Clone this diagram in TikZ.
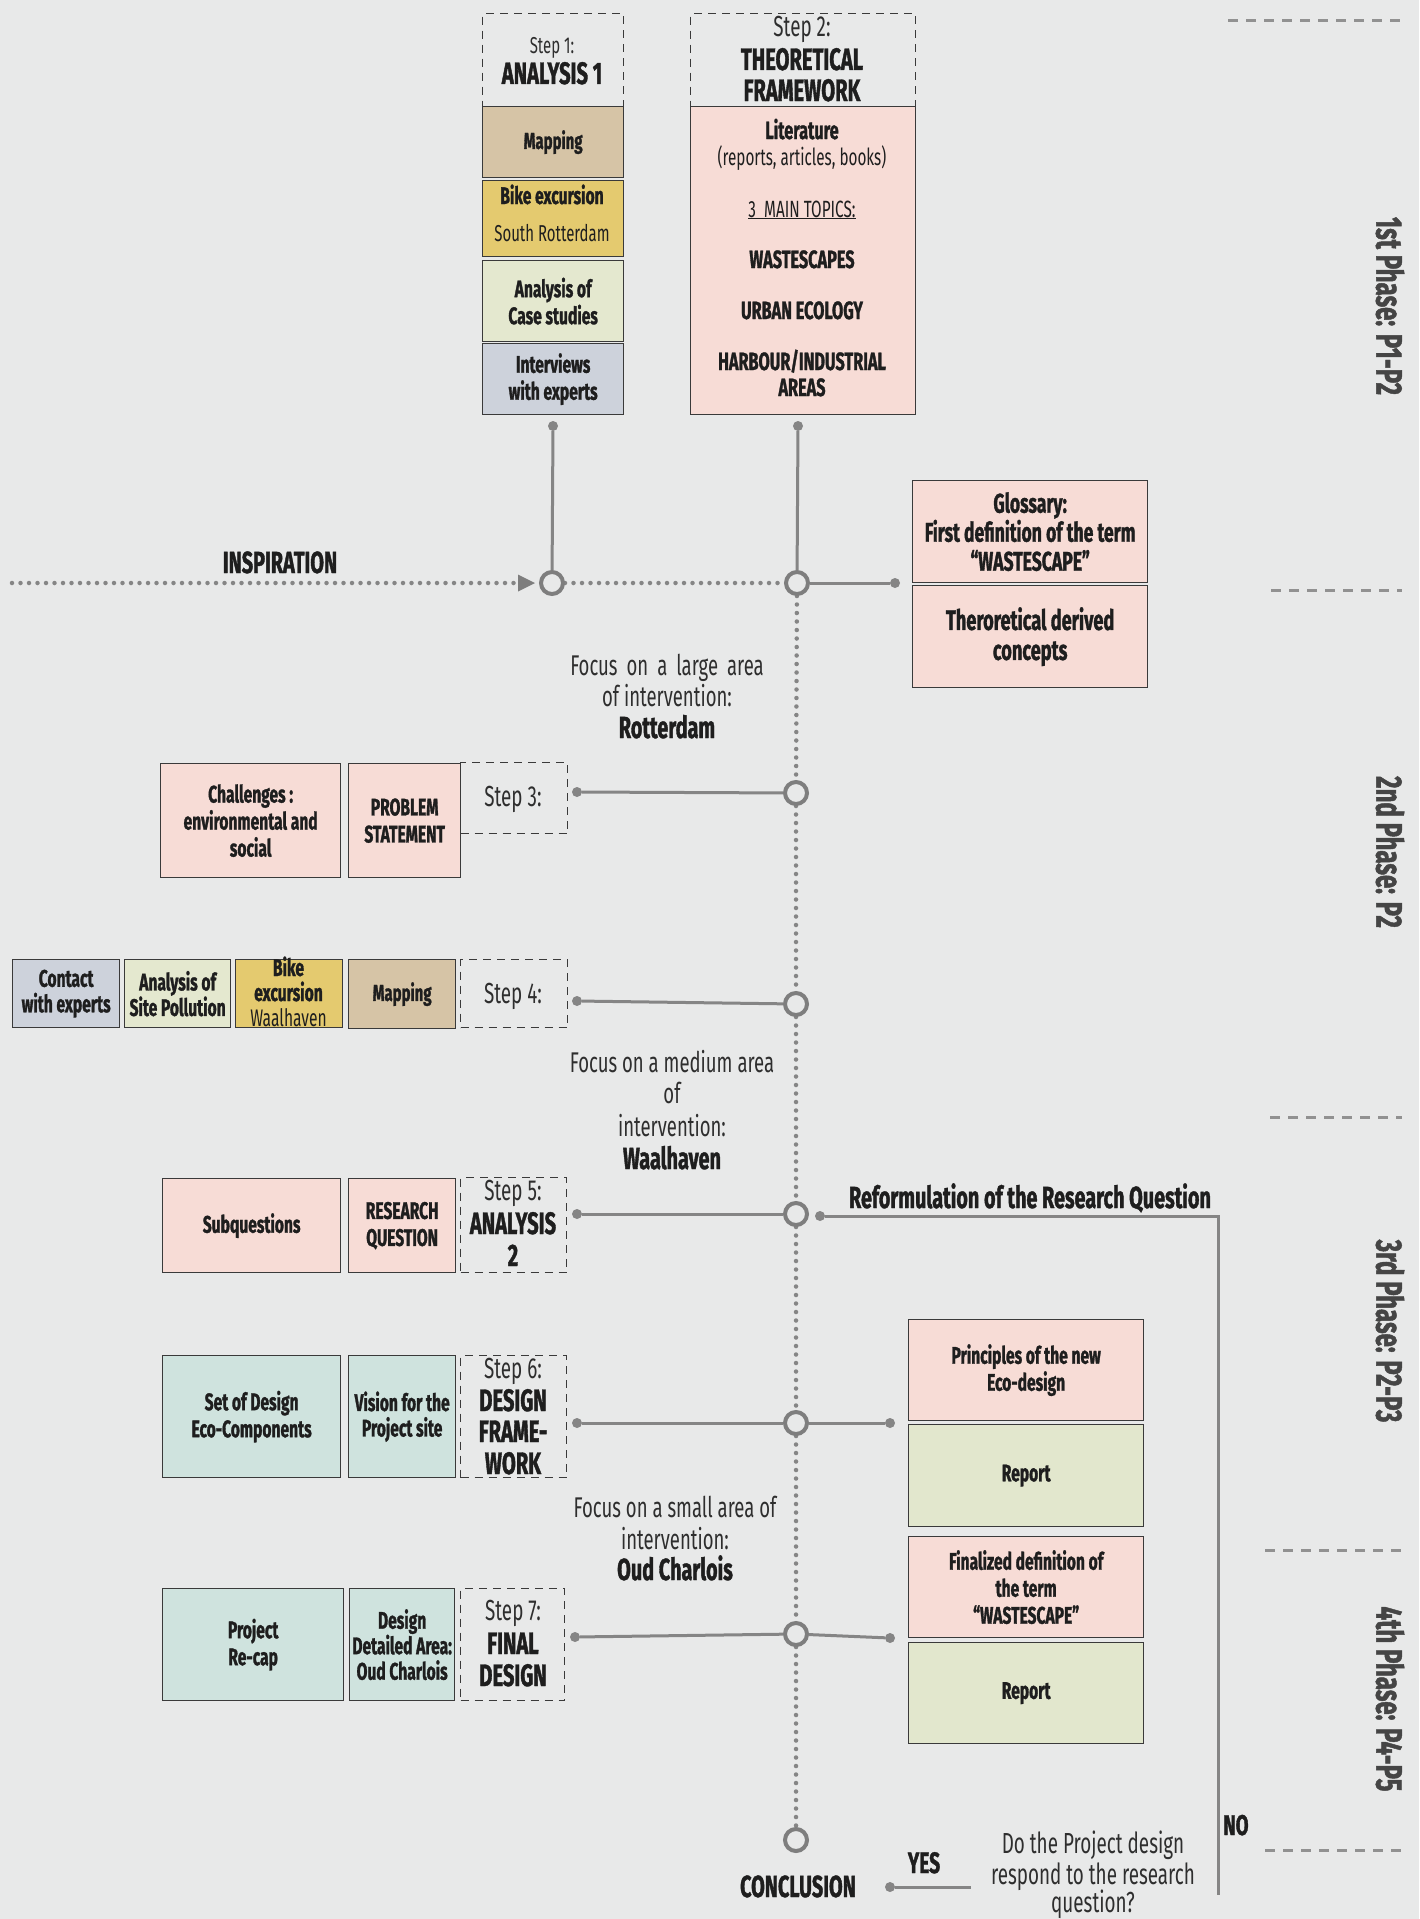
\documentclass[tikz,border=0pt]{standalone}
\usepackage{fontspec}
\setmainfont{Fira Sans}[FakeStretch=0.65, BoldFeatures={FakeBold=1.2}]
\usetikzlibrary{arrows.meta}
\definecolor{bg}{HTML}{E8E9E9}
\definecolor{lgray}{HTML}{858585}
\definecolor{rgray}{HTML}{7E7E7E}
\definecolor{bord}{HTML}{3A3A3A}
\definecolor{txt}{HTML}{1E1E1E}
\definecolor{ltxt}{HTML}{2E2E2E}
\definecolor{ptxt}{HTML}{454545}
\definecolor{ctan}{HTML}{D6C4A6}
\definecolor{cyel}{HTML}{E4CA6F}
\definecolor{clgr}{HTML}{E4E8CF}
\definecolor{cblu}{HTML}{CDD2DB}
\definecolor{cpink}{HTML}{F7DCD6}
\definecolor{cteal}{HTML}{CFE3DE}
\definecolor{crep}{HTML}{E2E7CD}
\newcommand\fs[2]{\fontsize{#1}{#2}\selectfont}
\pgfdeclarelayer{bgl}
\pgfdeclarelayer{lines}
\pgfsetlayers{bgl,lines,main}
\tikzset{
  box/.style={draw=bord, line width=1.3pt, inner sep=2pt, align=center, text=txt,
     font=\fs{24}{27}\bfseries, anchor=north west},
  nbox/.style={box, font=\fs{24}{25.5}\bfseries},
  stepbox/.style={draw=bord, line width=1.3pt, dash pattern=on 8pt off 6pt, anchor=north west, inner sep=0},
  steplbl/.style={anchor=base, text=ltxt, font=\fs{29}{30}, inner sep=0},
  steptitle/.style={anchor=base, text=txt, font=\fs{31}{30}\bfseries, inner sep=0},
  intext/.style={anchor=base, text=txt, inner sep=0},
  littxt/.style={anchor=base, text=txt, font=\fs{25}{26}\bfseries, inner sep=0},
  focus/.style={anchor=base, text=ltxt, font=\fs{28.5}{30}, inner sep=0},
  focusb/.style={anchor=base, text=txt, font=\fs{30.5}{30}\bfseries, inner sep=0},
  bigb/.style={anchor=base, text=txt, font=\fs{30.5}{30}\bfseries, inner sep=0},
  phase/.style={rotate=-90, text=ptxt, font=\fs{37}{37}\bfseries, inner sep=0},
  conn/.style={draw=lgray, line width=3pt},
  dotl/.style={draw=lgray, line width=4.5pt, line cap=round, dash pattern=on 0pt off 8.5pt},
  ring/.style={circle, draw=rgray, line width=4pt, fill=bg, minimum size=22pt, inner sep=0},
  pin/.style={circle, fill=lgray, minimum size=10pt, inner sep=0},
  phaseline/.style={draw=lgray!90, line width=3pt, dash pattern=on 10pt off 8pt},
}
\newcommand\ws{\hspace{9pt}}
\begin{document}
\begin{tikzpicture}[x=1pt,y=-1pt]
\begin{pgfonlayer}{bgl}
\fill[bg] (0,0) rectangle (1419,1919);
\end{pgfonlayer}
\useasboundingbox (0,0) rectangle (1419,1919);

% ---------- Step 1 ----------
\node[stepbox, minimum width=141pt, minimum height=93pt] (s1) at (482,13) {};
\node[steplbl, font=\fs{23}{30}] (s1a) at (552,53) {Step 1:};
\node[steptitle] (s1b) at (552,84) {ANALYSIS 1};
\node[box, fill=ctan, minimum width=141pt, minimum height=71pt, font=\fs{23}{26}\bfseries] (map1) at (482,106) {Mapping};
\node[box, fill=cyel, minimum width=141pt, minimum height=76pt] (bike1) at (482,180) {};
\node[intext, font=\fs{24}{26}\bfseries] (bike1a) at (552,204) {Bike excursion};
\node[intext, font=\fs{23}{26}] (bike1b) at (552,241) {South Rotterdam};
\node[box, fill=clgr, minimum width=141pt, minimum height=81pt] (case1) at (482,260) {Analysis of\\Case studies};
\node[box, fill=cblu, minimum width=141pt, minimum height=71pt] (int1) at (482,343) {Interviews\\with experts};

% ---------- Step 2 ----------
\node[stepbox, minimum width=225pt, minimum height=93pt] (s2) at (690,13) {};
\node[steplbl] (s2a) at (802,37) {Step 2:};
\node[steptitle] (s2b) at (802,70) {THEORETICAL};
\node[steptitle] (s2c) at (802,101) {FRAMEWORK};
\node[box, fill=cpink, minimum width=225pt, minimum height=308pt] (lit) at (690,106) {};
\node[littxt] (l1) at (802,139) {Literature};
\node[littxt, font=\fs{23.5}{26}] (l2) at (802,165) {(reports, articles, books)};
\node[littxt, font=\fs{23.5}{26}] (l3) at (802,217) {\underline{3\ \ MAIN TOPICS:}};
\node[littxt] (l4) at (802,268) {WASTESCAPES};
\node[littxt] (l5) at (802,319) {URBAN ECOLOGY};
\node[littxt] (l6) at (802,370) {HARBOUR/INDUSTRIAL};
\node[littxt] (l7) at (802,396) {AREAS};

% ---------- rings ----------
\node[ring] (c1) at (552,583) {};
\node[ring] (c2) at (797,583) {};
\node[ring] (c3) at (796,793) {};
\node[ring] (c4) at (796,1004) {};
\node[ring] (c5) at (796,1214) {};
\node[ring] (c6) at (796,1423) {};
\node[ring] (c7) at (796,1634) {};
\node[ring] (c8) at (796,1840) {};

% pins
\node[pin] (p1) at (553,426) {};
\node[pin] (p2) at (798,426) {};
\node[pin] (p2r) at (895,583) {};
\node[pin] (p3) at (577,792) {};
\node[pin] (p4) at (577,1001) {};
\node[pin] (p5) at (577,1214) {};
\node[pin] (p5r) at (820,1216) {};
\node[pin] (p6) at (577,1423) {};
\node[pin] (p6r) at (890,1423) {};
\node[pin] (p7) at (575,1637) {};
\node[pin] (p7r) at (890,1638) {};
\node[pin] (p8) at (890,1887) {};
\coordinate (istart) at (12,583);
\coordinate (k1) at (1218,1216);
\coordinate (k2) at (1218,1895);
\coordinate (k3) at (971,1887);

% ---------- right boxes, top ----------
\node[box, fill=cpink, minimum width=235pt, minimum height=102pt, font=\fs{27}{29}\bfseries] (gloss) at (912,480)
  {Glossary:\\First definition of the term\\“WASTESCAPE”};
\node[box, fill=cpink, minimum width=235pt, minimum height=102pt, font=\fs{28}{30}\bfseries] (theo) at (912,585)
  {Theroretical derived\\concepts};

% ---------- Step 3 ----------
\node[stepbox, minimum width=107pt, minimum height=71pt] (s3) at (460,762) {};
\node[steplbl] (s3a) at (513,806) {Step 3:};
\node[box, fill=cpink, minimum width=112pt, minimum height=114pt] (prob) at (348,763) {PROBLEM\\STATEMENT};
\node[box, fill=cpink, minimum width=180pt, minimum height=114pt] (chal) at (160,763) {Challenges :\\environmental and\\social};

% ---------- Step 4 ----------
\node[stepbox, minimum width=107pt, minimum height=68pt] (s4) at (460,959) {};
\node[steplbl] (s4a) at (513,1003) {Step 4:};
\node[box, fill=ctan, minimum width=107pt, minimum height=69pt, font=\fs{23}{26}\bfseries] (map4) at (348,959) {Mapping};
\node[box, fill=cyel, minimum width=107pt, minimum height=68pt] (bike4) at (235,959) {};
\node[intext, font=\fs{24}{26}\bfseries] (bike4a) at (288.5,976) {Bike};
\node[intext, font=\fs{24}{26}\bfseries] (bike4b) at (288.5,1001) {excursion};
\node[intext, font=\fs{24}{26}] (bike4c) at (288.5,1026) {Waalhaven};
\node[nbox, fill=clgr, minimum width=106pt, minimum height=68pt] (site4) at (124,959) {Analysis of\\Site Pollution};
\node[nbox, fill=cblu, minimum width=107pt, minimum height=68pt] (cont4) at (12,959) {Contact\\with experts};

% ---------- Step 5 ----------
\node[stepbox, minimum width=106pt, minimum height=95pt] (s5) at (460,1177) {};
\node[steplbl] (s5a) at (513,1200) {Step 5:};
\node[steptitle] (s5b) at (513,1234) {ANALYSIS};
\node[steptitle] (s5c) at (513,1266) {2};
\node[box, fill=cpink, minimum width=107pt, minimum height=94pt] (rq) at (348,1178) {RESEARCH\\QUESTION};
\node[box, fill=cpink, minimum width=178pt, minimum height=94pt] (subq) at (162,1178) {Subquestions};

% ---------- Step 6 ----------
\node[stepbox, minimum width=106pt, minimum height=122pt] (s6) at (460,1355) {};
\node[steplbl] (s6a) at (513,1378) {Step 6:};
\node[steptitle] (s6b) at (513,1411) {DESIGN};
\node[steptitle] (s6c) at (513,1442) {FRAME-};
\node[steptitle] (s6d) at (513,1474) {WORK};
\node[nbox, fill=cteal, minimum width=107pt, minimum height=122pt] (vis) at (348,1355) {Vision for the\\Project site};
\node[box, fill=cteal, minimum width=178pt, minimum height=122pt] (set6) at (162,1355) {Set of Design\\Eco-Components};
\node[box, fill=cpink, minimum width=235pt, minimum height=101pt] (princ) at (908,1319) {Principles of the new\\Eco-design};
\node[box, fill=crep, minimum width=235pt, minimum height=102pt] (rep6) at (908,1424) {Report};

% ---------- Step 7 ----------
\node[stepbox, minimum width=104pt, minimum height=112pt] (s7) at (460,1588) {};
\node[steplbl] (s7a) at (513,1620) {Step 7:};
\node[steptitle] (s7b) at (513,1654) {FINAL};
\node[steptitle] (s7c) at (513,1686) {DESIGN};
\node[nbox, fill=cteal, minimum width=105pt, minimum height=112pt] (dda) at (349,1588) {Design\\Detailed Area:\\Oud Charlois};
\node[box, fill=cteal, minimum width=181pt, minimum height=112pt] (recap) at (162,1588) {Project\\Re-cap};
\node[box, fill=cpink, minimum width=235pt, minimum height=101pt] (fin) at (908,1536) {Finalized definition of\\the term\\“WASTESCAPE”};
\node[box, fill=crep, minimum width=235pt, minimum height=101pt] (rep7) at (908,1642) {Report};

% ---------- focus texts ----------
\node[focus] (f1a) at (667,675) {Focus\ws on\ws a\ws large\ws area};
\node[focus] (f1b) at (667,706) {of intervention:};
\node[focusb] (f1c) at (667,738) {Rotterdam};
\node[focus] (f2a) at (672,1072) {Focus on a medium area};
\node[focus] (f2b) at (672,1103) {of};
\node[focus] (f2c) at (672,1136) {intervention:};
\node[focusb] (f2d) at (672,1169) {Waalhaven};
\node[focus] (f3a) at (675,1517) {Focus on a small area of};
\node[focus] (f3b) at (675,1549) {intervention:};
\node[focusb] (f3c) at (675,1580) {Oud Charlois};

% ---------- other labels ----------
\node[bigb] (insp) at (280,573) {INSPIRATION};
\node[bigb] (reform) at (1030,1208) {Reformulation of the Research Question};
\node[bigb, font=\fs{28.5}{30}\bfseries] (no) at (1236,1835) {NO};
\node[bigb] (concl) at (798,1897) {CONCLUSION};
\node[bigb, font=\fs{29.5}{30}\bfseries] (yes) at (924,1873) {YES};
\node[focus, font=\fs{29}{30}] (q1) at (1093,1853) {Do the Project design};
\node[focus, font=\fs{29}{30}] (q2) at (1093,1884) {respond to the research};
\node[focus, font=\fs{29}{30}] (q3) at (1093,1912) {question?};

% ---------- phases ----------
\node[phase] (ph1) at (1390,306) {1st Phase: P1-P2};
\node[phase] (ph2) at (1390,852) {2nd Phase: P2};
\node[phase] (ph3) at (1390,1331) {3rd Phase: P2-P3};
\node[phase] (ph4) at (1390,1699) {4th Phase: P4-P5};
\draw[phaseline] (1228,21) -- (1402,21);
\draw[phaseline] (1271,590) -- (1402,590);
\draw[phaseline] (1270,1117) -- (1402,1117);
\draw[phaseline] (1265,1550) -- (1402,1550);
\draw[phaseline] (1265,1850) -- (1402,1850);

% ---------- connectors ----------
\begin{pgfonlayer}{lines}
\draw[dotl, -{Triangle[length=17pt,width=17pt,fill=rgray,line width=0pt]}, shorten >=4pt] (istart) -- (c1);
\draw[dotl] (c1) -- (c2);
\draw[dotl] (c2) -- (c3);
\draw[dotl] (c3) -- (c4);
\draw[dotl] (c4) -- (c5);
\draw[dotl] (c5) -- (c6);
\draw[dotl] (c6) -- (c7);
\draw[dotl] (c7) -- (c8);
\draw[conn] (p1) -- (c1);
\draw[conn] (p2) -- (c2);
\draw[conn] (c2) -- (p2r);
\draw[conn] (p3) -- (c3);
\draw[conn] (p4) -- (c4);
\draw[conn] (p5) -- (c5);
\draw[conn] (p5r) -- (k1) -- (k2);
\draw[conn] (p6) -- (c6);
\draw[conn] (c6) -- (p6r);
\draw[conn] (p7) -- (c7);
\draw[conn] (c7) -- (p7r);
\draw[conn] (p8) -- (k3);
\end{pgfonlayer}
\end{tikzpicture}
\end{document}
